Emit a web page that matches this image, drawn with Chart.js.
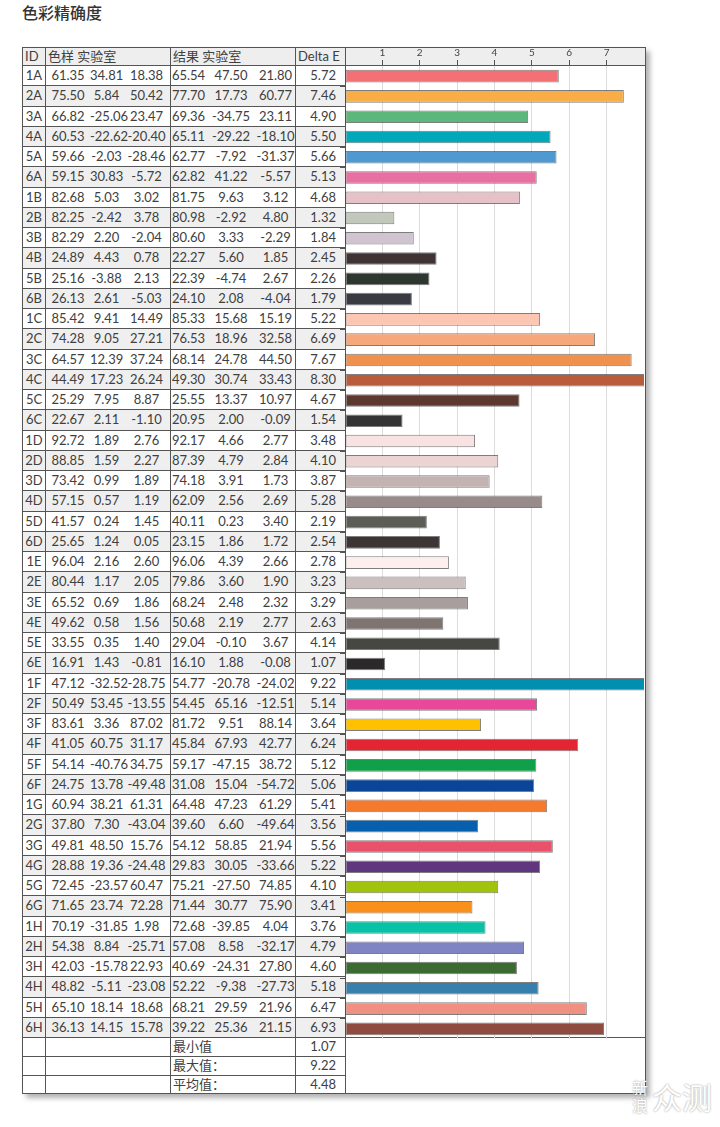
<!DOCTYPE html>
<html>
<head>
<meta charset="utf-8">
<title>色彩精确度</title>
<script src="https://cdn.jsdelivr.net/npm/chart.js@4.4.1/dist/chart.umd.min.js"></script>
<style>
  body { margin: 0; background: #fff; width: 720px; height: 1127px; position: relative; overflow: hidden;
         font-family: Lato, "Noto Sans CJK SC", sans-serif; color: #404040; }
  h1 { position: absolute; left: 22px; top: 0px; margin: 0; font: 500 16px "Noto Sans CJK SC", sans-serif; color: #333; }
  #grid { position: absolute; left: 22px; top: 47px; display: grid;
          grid-template-columns: 23px 125px 125px 50px 300px;
          grid-template-rows: 18px repeat(48, 20.26px) repeat(3, 18.8px);
          border-left: 1px solid #555; border-top: 1px solid #555;
          box-shadow: 4px 4px 5px rgba(0, 0, 0, 0.3); }
  .c { box-sizing: border-box; border-right: 1px solid #555; border-bottom: 1px solid #555;
       font-size: 13px; line-height: 1; display: flex; align-items: center; white-space: nowrap; overflow: hidden; }
  .hd { background: #eeeeee; padding-left: 2px; }
  .alt { background: #efefef; }
  .id { justify-content: center; }
  .num { justify-content: flex-end; padding-right: 9px; }
  .sub { display: inline-block; text-align: center; }
  #wrap { position: absolute; left: 340px; top: 47px; width: 305px; height: 992px; }
  .wm { position: absolute; color: #fff; text-shadow: 0 0 2px rgba(0, 0, 0, 0.45); font-family: "Noto Sans CJK SC", sans-serif; }
</style>
</head>
<body>
<h1>色彩精确度</h1>
<div id="grid"></div>
<div id="wrap"><canvas id="chart" width="305" height="992"></canvas></div>
<div class="wm" style="left:632px; top:1078px; font-size:16px; line-height:18px; width:18px;">新<br>浪</div>
<div class="wm" style="left:652px; top:1076px; font-size:30px; line-height:40px;">众测</div>
<script>
// patch IDs
const ids = ['1A', '2A', '3A', '4A', '5A', '6A', '1B', '2B', '3B', '4B', '5B', '6B',
  '1C', '2C', '3C', '4C', '5C', '6C', '1D', '2D', '3D', '4D', '5D', '6D',
  '1E', '2E', '3E', '4E', '5E', '6E', '1F', '2F', '3F', '4F', '5F', '6F',
  '1G', '2G', '3G', '4G', '5G', '6G', '1H', '2H', '3H', '4H', '5H', '6H'];

// 色样 实验室 (L a b)
const sampleLab = [
  ['61.35', '34.81', '18.38'], ['75.50', '5.84', '50.42'], ['66.82', '-25.06', '23.47'],
  ['60.53', '-22.62', '-20.40'], ['59.66', '-2.03', '-28.46'], ['59.15', '30.83', '-5.72'],
  ['82.68', '5.03', '3.02'], ['82.25', '-2.42', '3.78'], ['82.29', '2.20', '-2.04'],
  ['24.89', '4.43', '0.78'], ['25.16', '-3.88', '2.13'], ['26.13', '2.61', '-5.03'],
  ['85.42', '9.41', '14.49'], ['74.28', '9.05', '27.21'], ['64.57', '12.39', '37.24'],
  ['44.49', '17.23', '26.24'], ['25.29', '7.95', '8.87'], ['22.67', '2.11', '-1.10'],
  ['92.72', '1.89', '2.76'], ['88.85', '1.59', '2.27'], ['73.42', '0.99', '1.89'],
  ['57.15', '0.57', '1.19'], ['41.57', '0.24', '1.45'], ['25.65', '1.24', '0.05'],
  ['96.04', '2.16', '2.60'], ['80.44', '1.17', '2.05'], ['65.52', '0.69', '1.86'],
  ['49.62', '0.58', '1.56'], ['33.55', '0.35', '1.40'], ['16.91', '1.43', '-0.81'],
  ['47.12', '-32.52', '-28.75'], ['50.49', '53.45', '-13.55'], ['83.61', '3.36', '87.02'],
  ['41.05', '60.75', '31.17'], ['54.14', '-40.76', '34.75'], ['24.75', '13.78', '-49.48'],
  ['60.94', '38.21', '61.31'], ['37.80', '7.30', '-43.04'], ['49.81', '48.50', '15.76'],
  ['28.88', '19.36', '-24.48'], ['72.45', '-23.57', '60.47'], ['71.65', '23.74', '72.28'],
  ['70.19', '-31.85', '1.98'], ['54.38', '8.84', '-25.71'], ['42.03', '-15.78', '22.93'],
  ['48.82', '-5.11', '-23.08'], ['65.10', '18.14', '18.68'], ['36.13', '14.15', '15.78']
];

// 结果 实验室 (L a b)
const resultLab = [
  ['65.54', '47.50', '21.80'], ['77.70', '17.73', '60.77'], ['69.36', '-34.75', '23.11'],
  ['65.11', '-29.22', '-18.10'], ['62.77', '-7.92', '-31.37'], ['62.82', '41.22', '-5.57'],
  ['81.75', '9.63', '3.12'], ['80.98', '-2.92', '4.80'], ['80.60', '3.33', '-2.29'],
  ['22.27', '5.60', '1.85'], ['22.39', '-4.74', '2.67'], ['24.10', '2.08', '-4.04'],
  ['85.33', '15.68', '15.19'], ['76.53', '18.96', '32.58'], ['68.14', '24.78', '44.50'],
  ['49.30', '30.74', '33.43'], ['25.55', '13.37', '10.97'], ['20.95', '2.00', '-0.09'],
  ['92.17', '4.66', '2.77'], ['87.39', '4.79', '2.84'], ['74.18', '3.91', '1.73'],
  ['62.09', '2.56', '2.69'], ['40.11', '0.23', '3.40'], ['23.15', '1.86', '1.72'],
  ['96.06', '4.39', '2.66'], ['79.86', '3.60', '1.90'], ['68.24', '2.48', '2.32'],
  ['50.68', '2.19', '2.77'], ['29.04', '-0.10', '3.67'], ['16.10', '1.88', '-0.08'],
  ['54.77', '-20.78', '-24.02'], ['54.45', '65.16', '-12.51'], ['81.72', '9.51', '88.14'],
  ['45.84', '67.93', '42.77'], ['59.17', '-47.15', '38.72'], ['31.08', '15.04', '-54.72'],
  ['64.48', '47.23', '61.29'], ['39.60', '6.60', '-49.64'], ['54.12', '58.85', '21.94'],
  ['29.83', '30.05', '-33.66'], ['75.21', '-27.50', '74.85'], ['71.44', '30.77', '75.90'],
  ['72.68', '-39.85', '4.04'], ['57.08', '8.58', '-32.17'], ['40.69', '-24.31', '27.80'],
  ['52.22', '-9.38', '-27.73'], ['68.21', '29.59', '21.96'], ['39.22', '25.36', '21.15']
];

// Delta E per patch
const deltaE = [5.72, 7.46, 4.90, 5.50, 5.66, 5.13, 4.68, 1.32, 1.84, 2.45, 2.26, 1.79,
  5.22, 6.69, 7.67, 8.30, 4.67, 1.54, 3.48, 4.10, 3.87, 5.28, 2.19, 2.54,
  2.78, 3.23, 3.29, 2.63, 4.14, 1.07, 9.22, 5.14, 3.64, 6.24, 5.12, 5.06,
  5.41, 3.56, 5.56, 5.22, 4.10, 3.41, 3.76, 4.79, 4.60, 5.18, 6.47, 6.93];

// bar colours, one per patch
const barColors = ['#f37174', '#f8ad47', '#5bb77b', '#00a8b9', '#4f99d1', '#e76fa2',
  '#e5c2c8', '#c2c8bb', '#cfc4cf', '#3f3333', '#2d3730', '#393a42',
  '#fdc6b2', '#f7a87a', '#ef914f', '#b85c3c', '#5c382f', '#353435',
  '#f8e3e2', '#ebd4d2', '#c3b4b3', '#978c8b', '#5d5d57', '#3c3535',
  '#fcefee', '#cbbfbf', '#a89e9e', '#7e7472', '#464642', '#2b2929',
  '#008fae', '#e8489a', '#ffc000', '#e32432', '#0fa049', '#0a4597',
  '#f57a2e', '#075fb0', '#e9526a', '#60367f', '#a2c30d', '#f8901a',
  '#07c2a5', '#7f85c2', '#3b6a33', '#3780ad', '#ef9080', '#8f4b3f'];

const headers = ['ID', '色样 实验室', '结果 实验室', 'Delta E'];
const summaryLabels = ['最小值', '最大值：', '平均值：'];
const summaryValues = ['1.07', '9.22', '4.48'];
const xTicks = [1, 2, 3, 4, 5, 6, 7];

const grid = document.getElementById('grid');

function cell(row, col, cls, html, span) {
  const d = document.createElement('div');
  d.className = 'c ' + (cls || '');
  d.style.gridRow = span ? row + ' / span ' + span : row;
  d.style.gridColumn = col;
  d.innerHTML = html || '';
  grid.appendChild(d);
  return d;
}

function triple(vals, widths) {
  return vals.map((v, i) => `<span class="sub" style="width:${widths[i]}px">${v}</span>`).join('');
}

headers.forEach((h, i) => cell(1, i + 1, 'hd', h));
cell(1, 5, 'hd', '');

ids.forEach((id, i) => {
  const r = i + 2;
  const alt = i % 2 === 1 ? 'alt' : '';
  cell(r, 1, 'id ' + alt, id);
  cell(r, 2, alt, triple(sampleLab[i], [44, 33, 47]));
  cell(r, 3, alt, triple(resultLab[i], [35, 50, 39]));
  cell(r, 4, 'num ' + alt, deltaE[i].toFixed(2));
});
cell(2, 5, '', '', ids.length);

summaryLabels.forEach((label, i) => {
  const r = ids.length + 2 + i;
  cell(r, 1, '', '');
  cell(r, 2, '', '');
  cell(r, 3, '', label).style.paddingLeft = '2px';
  cell(r, 4, 'num', summaryValues[i]);
});
cell(ids.length + 2, 5, '', '', summaryLabels.length);

const edge = v => v === 0 || v === 8;

new Chart(document.getElementById('chart'), {
  type: 'bar',
  data: {
    labels: ids,
    datasets: [{
      data: deltaE,
      backgroundColor: barColors,
      borderColor: 'rgba(40, 40, 40, 0.6)',
      borderWidth: 1,
      borderSkipped: false,
      categoryPercentage: 1,
      barPercentage: 0.62,
      clip: 0
    }]
  },
  options: {
    indexAxis: 'y',
    responsive: false,
    animation: false,
    layout: { padding: 0 },
    plugins: { legend: { display: false }, tooltip: { enabled: false } },
    scales: {
      x: {
        position: 'top',
        min: 0,
        max: 8,
        afterFit: scale => { scale.height = 19; },
        afterBuildTicks: scale => {
          scale.ticks = [0].concat(xTicks, [8]).map(v => ({ value: v }));
        },
        ticks: {
          padding: 1,
          font: { family: 'Lato', size: 10 },
          color: '#444',
          callback: v => (xTicks.includes(v) ? String(v) : '')
        },
        grid: {
          color: ctx => (ctx.tick && edge(ctx.tick.value) ? 'rgba(0,0,0,0)' : '#dcdcdc'),
          tickColor: ctx => (ctx.tick && edge(ctx.tick.value) ? 'rgba(0,0,0,0)' : '#555'),
          tickLength: 6,
          lineWidth: 1
        },
        border: { display: false }
      },
      y: {
        afterFit: scale => { scale.width = 5; },
        ticks: { display: false },
        grid: { drawOnChartArea: false, tickLength: 5, tickColor: '#555', offset: true },
        border: { display: false }
      }
    }
  }
});
</script>
</body>
</html>
